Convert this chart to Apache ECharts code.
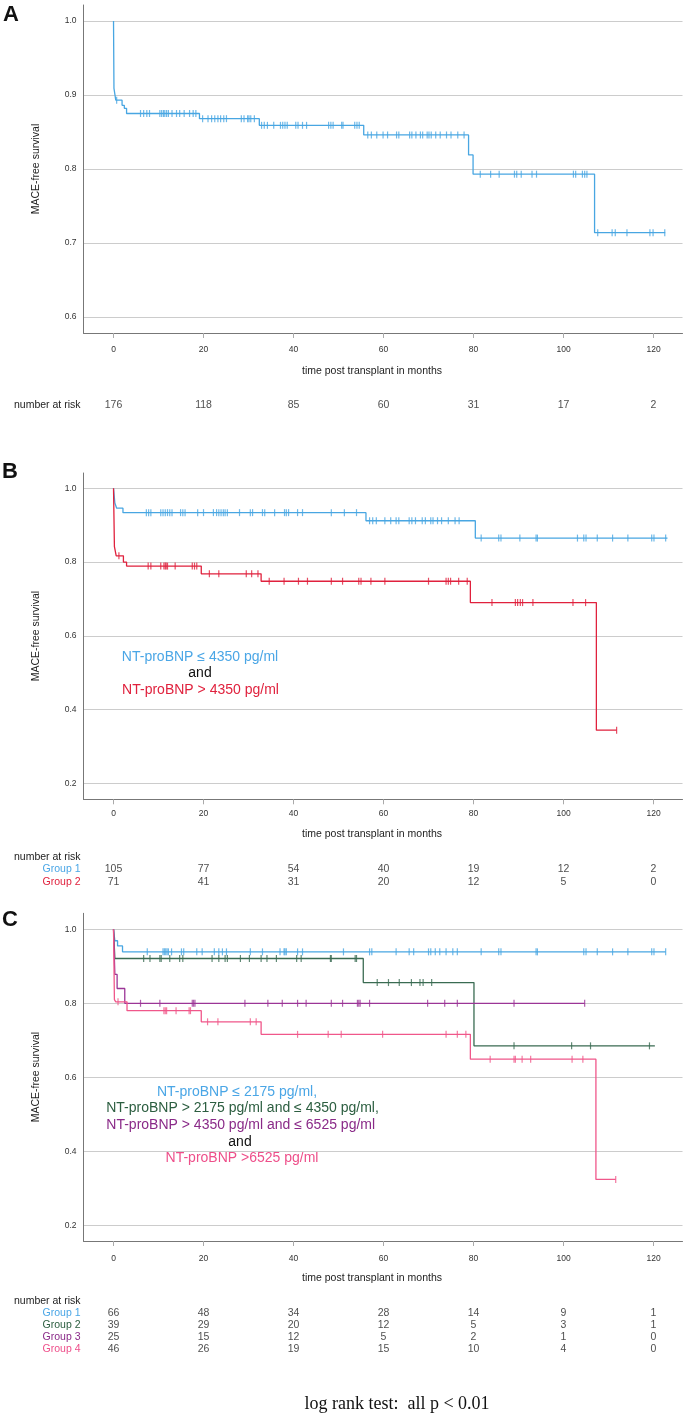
<!DOCTYPE html>
<html><head><meta charset="utf-8">
<script src="https://cdn.jsdelivr.net/npm/echarts@6/dist/echarts.min.js"></script>
<style>html,body{margin:0;padding:0;background:#fff}#c{width:685px;height:1413px}</style>
</head><body><div id="c"></div>
<script>
const FONT = '"Liberation Sans", Arial, sans-serif';
const xTickValues = [0, 20, 40, 60, 80, 100, 120];

// ---------- Panel A ----------
const A_times = [0, 0.1, 0.5, 1.9, 2.4, 2.9, 19.1, 32.4, 55.6, 78.9, 79.9, 106.9, 122.6];
const A_surv  = [1.0, 0.909, 0.893, 0.886, 0.882, 0.875, 0.868, 0.859, 0.846, 0.819, 0.793, 0.714, 0.714];
const A_cens  = [0.7, 6.0, 6.7, 7.4, 8.0, 10.3, 10.7, 11.1, 11.4, 11.8, 12.2, 13.0, 14.0, 14.7, 15.7, 16.9, 17.7, 18.3,
  19.8, 21.0, 21.8, 22.5, 23.2, 23.8, 24.5, 25.1, 28.4, 29.0, 29.8, 30.1, 30.5, 31.3,
  32.9, 33.5, 34.2, 35.6, 37.1, 37.6, 38.1, 38.6, 40.5, 41.0, 42.0, 42.9, 47.8, 48.3, 48.8, 50.7, 51.0, 53.6, 54.1, 54.6,
  56.5, 57.3, 58.5, 59.9, 60.9, 62.9, 63.4, 65.8, 66.3, 67.2, 68.2, 68.7, 69.7, 70.1, 70.6, 71.6, 72.6, 74.0, 75.0, 76.5, 77.9,
  81.5, 83.8, 85.7, 89.1, 89.6, 90.6, 93.0, 94.0, 102.2, 102.7, 104.2, 104.7, 105.2,
  107.6, 110.8, 111.5, 114.1, 119.2, 119.9, 122.5];
const A_risk = [176, 118, 85, 60, 31, 17, 2];

// ---------- Panel B ----------
const B1_times = [0, 0.3, 0.7, 2.1, 56.1, 80.4, 123.1];
const B1_surv  = [1.0, 0.96, 0.946, 0.934, 0.912, 0.865, 0.865];
const B1_cens  = [7.3, 7.8, 8.3, 10.5, 11.0, 11.5, 12.0, 12.5, 13.0, 14.9, 15.4, 15.9, 18.7, 20.0, 22.2, 22.9, 23.4, 23.9, 24.4, 24.8, 25.3,
  28.0, 30.4, 30.9, 33.1, 33.6, 35.8, 38.0, 38.4, 38.9, 40.9, 42.0, 48.4, 51.3, 54.0,
  56.9, 57.6, 58.4, 60.3, 61.6, 62.8, 63.4, 65.7, 66.3, 67.1, 68.6, 69.3, 70.5, 71.0, 72.0, 72.9, 74.4, 75.9, 76.8,
  81.7, 85.6, 86.1, 90.3, 93.9, 94.2, 103.1, 104.5, 105.0, 107.5, 110.9, 114.3, 119.6, 120.1, 122.7];
const B2_times = [0, 0.2, 0.6, 2.2, 2.9, 19.5, 32.8, 79.3, 107.3, 111.8];
const B2_surv  = [1.0, 0.842, 0.817, 0.80, 0.789, 0.768, 0.748, 0.690, 0.344, 0.344];
const B2_cens  = [1.2, 7.7, 8.3, 10.5, 11.2, 11.5, 11.7, 12.0, 13.7, 17.5, 18.0, 18.5,
  21.3, 23.4, 29.5, 30.7, 32.1,
  34.6, 37.9, 41.1, 43.1, 48.4, 50.9, 54.5, 55.0, 57.2, 60.3, 70.0, 73.9, 74.4, 74.9, 76.7, 78.6,
  84.1, 89.3, 89.8, 90.4, 90.9, 93.2, 102.1, 104.9, 111.8];
const B1_risk = [105, 77, 54, 40, 19, 12, 2];
const B2_risk = [71, 41, 31, 20, 12, 5, 0];

// ---------- Panel C ----------
const C1_times = [0, 0.3, 0.9, 2.0, 122.7];
const C1_surv  = [1.0, 0.969, 0.955, 0.939, 0.939];
const C1_cens  = [7.5, 11.0, 11.3, 11.6, 11.9, 12.2, 12.9, 15.1, 15.6, 18.5, 19.7, 22.4, 23.4, 24.2, 25.1, 30.4, 33.1, 37.0, 37.9, 38.1, 38.4,
  40.9, 42.0, 51.1, 56.9, 57.4, 62.8, 65.7, 66.7, 70.0, 70.5, 71.5, 72.5, 73.9, 75.4, 76.4, 81.7, 85.6, 86.1, 93.9, 94.2,
  104.5, 105.0, 107.5, 110.9, 114.3, 119.6, 120.1, 122.7];
const C2_times = [0, 0.3, 55.5, 80.1, 120.3];
const C2_surv  = [1.0, 0.921, 0.856, 0.685, 0.685];
const C2_cens  = [6.7, 8.1, 10.3, 10.6, 12.5, 14.7, 15.4, 21.9, 23.4, 24.8, 25.3, 28.2, 30.2, 32.8, 34.1, 36.2, 40.7, 41.7, 48.2, 48.4, 53.7, 54.0,
  58.6, 61.1, 63.5, 66.2, 68.1, 68.8, 70.7, 89.0, 101.8, 106.0, 119.1];
const C3_times = [0, 0.3, 0.8, 2.5, 104.7];
const C3_surv  = [1.0, 0.878, 0.840, 0.800, 0.800];
const C3_cens  = [6.0, 10.3, 17.5, 17.8, 18.1, 29.2, 34.3, 37.5, 40.9, 42.8, 48.4, 50.9, 54.2, 54.5, 54.8, 56.9, 69.8, 73.6, 76.4, 89.0, 104.7];
const C4_times = [0, 0.2, 0.5, 3.0, 19.5, 32.8, 79.3, 107.2, 111.6];
const C4_surv  = [1.0, 0.81, 0.804, 0.780, 0.750, 0.716, 0.649, 0.324, 0.324];
const C4_cens  = [1.0, 11.2, 11.5, 11.8, 13.9, 16.8, 17.1, 20.9, 23.2, 30.4, 31.7,
  40.9, 47.7, 50.6, 59.8, 73.9, 76.4, 78.3, 83.7, 89.0, 89.3, 90.8, 92.7, 101.9, 104.3, 111.6];
const C1_risk = [66, 48, 34, 28, 14, 9, 1];
const C2_risk = [39, 29, 20, 12, 5, 3, 1];
const C3_risk = [25, 15, 12, 5, 2, 1, 0];
const C4_risk = [46, 26, 19, 15, 10, 4, 0];

const COL = { blue: '#48a6e2', red: '#e0213d', green: '#3a6b52', purple: '#9b3596', pink: '#f0578a' };
const TXT = { blue: '#4aa6e6', red: '#e0213d', green: '#2c5e40', purple: '#8a2a88', pink: '#ee4f8a' };

const X_MIN = -6.67, X_MAX = 126.44;

function survAt(times, surv, t) {
  let s = surv[0];
  for (let i = 0; i < times.length; i++) if (times[i] <= t) s = surv[i];
  return s;
}
function km(times, surv, cens, color, ax) {
  return [
    { type: 'line', xAxisIndex: ax, yAxisIndex: ax, step: 'end', symbol: 'none', silent: true,
      data: times.map((t, i) => [t, surv[i]]), lineStyle: { color, width: 1.3 }, z: 3 },
    { type: 'scatter', xAxisIndex: ax, yAxisIndex: ax, symbol: 'rect', symbolSize: [1.2, 7], silent: true,
      data: cens.map(t => [t, survAt(times, surv, t)]), itemStyle: { color }, z: 4 }
  ];
}
function riskSeries(ax, row, vals) {
  return { type: 'scatter', xAxisIndex: ax, yAxisIndex: ax, symbolSize: 1, silent: true,
    itemStyle: { color: 'rgba(0,0,0,0)' },
    data: xTickValues.map((t, i) => [t, row, vals[i]]),
    label: { show: true, position: 'inside', formatter: p => String(p.value[2]), fontSize: 10.5, color: '#222', fontFamily: FONT } };
}
function plotX(idx, nameGap, margin) {
  return { type: 'value', gridIndex: idx, min: X_MIN, max: X_MAX, splitNumber: 7,
    axisLine: { show: true, onZero: false, lineStyle: { color: '#777', width: 1 } },
    axisTick: { show: true, customValues: xTickValues, length: 5, lineStyle: { color: '#aaa' } },
    axisLabel: { customValues: xTickValues, fontSize: 8.5, color: '#333', margin, fontFamily: FONT },
    splitLine: { show: false },
    name: 'time post transplant in months', nameLocation: 'middle', nameGap,
    nameTextStyle: { fontSize: 10.5, color: '#222', fontFamily: FONT, padding: [0, 22, 0, 0] } };
}
function plotY(idx, min, max) {
  return { type: 'value', gridIndex: idx, min, max, splitNumber: 5,
    axisLine: { show: true, onZero: false, lineStyle: { color: '#777', width: 1 } },
    axisTick: { show: false },
    axisLabel: { fontSize: 8.5, color: '#333', margin: 7, showMinLabel: false, showMaxLabel: false, fontFamily: FONT,
      formatter: v => v.toFixed(1) },
    splitLine: { show: true, showMinLine: false, showMaxLine: false, lineStyle: { color: '#cccccc', width: 1.2 } },
    name: 'MACE-free survival', nameLocation: 'middle', nameGap: 42, nameRotate: 90,
    nameTextStyle: { fontSize: 10.5, color: '#222', fontFamily: FONT } };
}
function riskX(idx) { return { type: 'value', gridIndex: idx, min: X_MIN, max: X_MAX, show: false }; }
function riskY(idx, cats) {
  return { type: 'category', gridIndex: idx, inverse: true, data: cats,
    axisLine: { show: false, onZero: false }, axisTick: { show: false }, splitLine: { show: false },
    axisLabel: { fontSize: 10.5, margin: 3, color: '#222', fontFamily: FONT, interval: 0 } };
}

const L = 83.5, W = 599;
const option = {
  animation: false,
  backgroundColor: '#fff',
  textStyle: { fontFamily: FONT },
  grid: [
    { left: L, top: 5, width: W, height: 328, outerBoundsMode: 'none' },
    { left: L, top: 398, width: W, height: 14, outerBoundsMode: 'none' },
    { left: L, top: 473, width: W, height: 326.3, outerBoundsMode: 'none' },
    { left: L, top: 850.4, width: W, height: 37.95, outerBoundsMode: 'none' },
    { left: L, top: 913.3, width: W, height: 327.7, outerBoundsMode: 'none' },
    { left: L, top: 1294.6, width: W, height: 60.75, outerBoundsMode: 'none' }
  ],
  xAxis: [plotX(0, 32.5, 12), riskX(1), plotX(2, 29, 10), riskX(3), plotX(4, 32, 13), riskX(5)],
  yAxis: [
    plotY(0, 0.5784, 1.0216),
    riskY(1, ['number at risk']),
    plotY(2, 0.1566, 1.0415),
    riskY(3, ['number at risk', { value: 'Group 1', textStyle: { color: TXT.blue } }, { value: 'Group 2', textStyle: { color: TXT.red } }]),
    plotY(4, 0.1576, 1.0432),
    riskY(5, ['number at risk',
      { value: 'Group 1', textStyle: { color: TXT.blue } },
      { value: 'Group 2', textStyle: { color: TXT.green } },
      { value: 'Group 3', textStyle: { color: TXT.purple } },
      { value: 'Group 4', textStyle: { color: TXT.pink } }])
  ],
  series: [
    ...km(A_times, A_surv, A_cens, COL.blue, 0),
    riskSeries(1, 0, A_risk),
    ...km(B1_times, B1_surv, B1_cens, COL.blue, 2),
    ...km(B2_times, B2_surv, B2_cens, COL.red, 2),
    riskSeries(3, 1, B1_risk),
    riskSeries(3, 2, B2_risk),
    ...km(C1_times, C1_surv, C1_cens, COL.blue, 4),
    ...km(C2_times, C2_surv, C2_cens, COL.green, 4),
    ...km(C3_times, C3_surv, C3_cens, COL.purple, 4),
    ...km(C4_times, C4_surv, C4_cens, COL.pink, 4),
    riskSeries(5, 1, C1_risk),
    riskSeries(5, 2, C2_risk),
    riskSeries(5, 3, C3_risk),
    riskSeries(5, 4, C4_risk)
  ],
  graphic: [
    { type: 'text', left: 3, top: 4, style: { text: 'A', font: 'bold 22px ' + FONT, fill: '#111' } },
    { type: 'text', left: 2, top: 461, style: { text: 'B', font: 'bold 22px ' + FONT, fill: '#111' } },
    { type: 'text', left: 2, top: 909, style: { text: 'C', font: 'bold 22px ' + FONT, fill: '#111' } },
    { type: 'text', x: 200, y: 656.7, style: { text: 'NT-proBNP ≤ 4350 pg/ml', fontSize: 14, fontFamily: FONT, fill: TXT.blue, align: 'center', verticalAlign: 'middle' } },
    { type: 'text', x: 200, y: 673.3, style: { text: 'and', fontSize: 14, fontFamily: FONT, fill: '#111', align: 'center', verticalAlign: 'middle' } },
    { type: 'text', x: 200.5, y: 690, style: { text: 'NT-proBNP > 4350 pg/ml', fontSize: 14, fontFamily: FONT, fill: TXT.red, align: 'center', verticalAlign: 'middle' } },
    { type: 'text', x: 237, y: 1091.7, style: { text: 'NT-proBNP ≤ 2175 pg/ml,', fontSize: 14, fontFamily: FONT, fill: TXT.blue, align: 'center', verticalAlign: 'middle' } },
    { type: 'text', x: 242.5, y: 1108.3, style: { text: 'NT-proBNP > 2175 pg/ml and ≤ 4350 pg/ml,', fontSize: 14, fontFamily: FONT, fill: TXT.green, align: 'center', verticalAlign: 'middle' } },
    { type: 'text', x: 240.7, y: 1125, style: { text: 'NT-proBNP > 4350 pg/ml and ≤ 6525 pg/ml', fontSize: 14, fontFamily: FONT, fill: TXT.purple, align: 'center', verticalAlign: 'middle' } },
    { type: 'text', x: 240, y: 1141.7, style: { text: 'and', fontSize: 14, fontFamily: FONT, fill: '#111', align: 'center', verticalAlign: 'middle' } },
    { type: 'text', x: 242, y: 1158.3, style: { text: 'NT-proBNP >6525 pg/ml', fontSize: 14, fontFamily: FONT, fill: TXT.pink, align: 'center', verticalAlign: 'middle' } },
    { type: 'text', x: 397, y: 1404, style: { text: 'log rank test:  all p < 0.01', fontSize: 18, fontFamily: '"Liberation Serif", "Times New Roman", serif', fill: '#111', align: 'center', verticalAlign: 'middle' } }
  ]
};
const chart = echarts.init(document.getElementById('c'), null, { renderer: 'canvas' });
chart.setOption(option);
</script>
</body></html>
